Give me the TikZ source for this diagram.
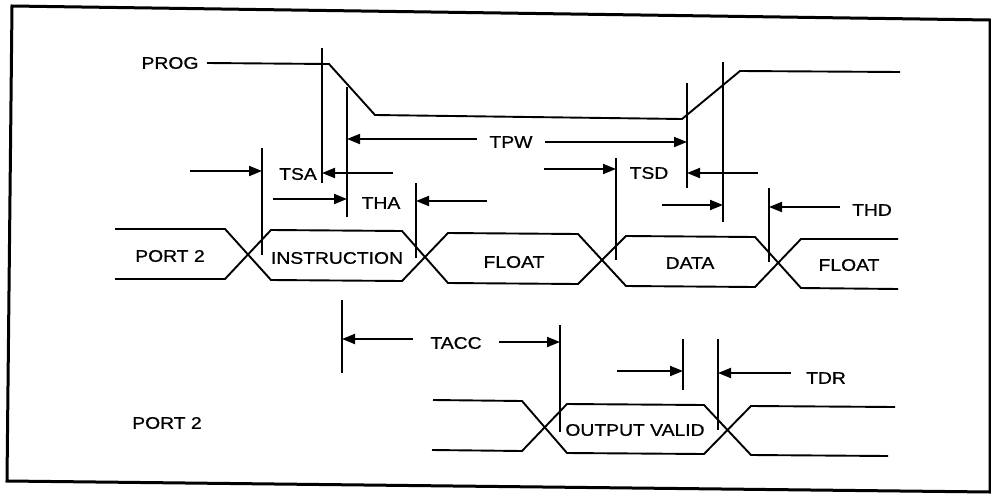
\documentclass[tikz,border=0pt]{standalone}
\usepackage{fontspec}
\newfontfamily\lblfont{Liberation Sans}[FakeStretch=1.15,FakeBold=0.8]
\usetikzlibrary{arrows.meta}

\begin{document}
\begin{tikzpicture}[x=1pt,y=-1pt,
	sig/.style={line width=1.9pt,line join=miter},
	tick/.style={line width=2.1pt},
	dim/.style={line width=1.9pt,-{Triangle[length=13pt,width=10pt]}},
	lbl/.style={inner sep=0pt,font=\lblfont\fontsize{16.8}{18}\selectfont}]
	\useasboundingbox (0,0) rectangle (991,493);
	% frame
	\draw[line width=3pt] (12,6) -- (990,20) -- (990,492) -- (7,481) -- cycle;
	% PROG
	\node[lbl] (prog) at (170,63) {PROG};
	\draw[sig] (207,63) -- (329,64) -- (375,115) -- (682,119) -- (740,71) -- (900,72);
	% PORT 2 (address in, data out)
	\node[lbl] (port1) at (170,256) {PORT 2};
	\draw[sig] (115,229) -- (225,229) -- (271,280) -- (402,281) -- (448,233) -- (578,234) -- (626,286) -- (755,287) -- (801,239) -- (898,239);
	\draw[sig] (115,279) -- (225,279) -- (271,230) -- (402,231) -- (448,283) -- (578,284) -- (626,236) -- (755,237) -- (801,288) -- (898,289);
	\node[lbl] (instr) at (337,258) {INSTRUCTION};
	\node[lbl] (float1) at (514,262) {FLOAT};
	\node[lbl] (data) at (690,263) {DATA};
	\node[lbl] (float2) at (849,265) {FLOAT};
	% PORT 2 (output)
	\node[lbl] (port2) at (167,423) {PORT 2};
	\draw[sig] (433,400) -- (522,401) -- (567,453) -- (704,454) -- (751,406) -- (895,407);
	\draw[sig] (432,450) -- (522,451) -- (567,404) -- (704,405) -- (751,455) -- (888,456);
	\node[lbl] (valid) at (635,430) {OUTPUT VALID};
	% marker lines
	\draw[tick] (322,48) -- (322,183);
	\draw[tick] (347,87) -- (347,217);
	\draw[tick] (262,148) -- (262,255);
	\draw[tick] (416,183) -- (416,258);
	\draw[tick] (687,83) -- (687,188);
	\draw[tick] (723,62) -- (723,222);
	\draw[tick] (616,158) -- (616,260);
	\draw[tick] (769,188) -- (769,262);
	\draw[tick] (342,300) -- (342,373);
	\draw[tick] (560,325) -- (560,432);
	\draw[tick] (683,339) -- (683,390);
	\draw[tick] (718,339) -- (718,430);
	% timings
	\node[lbl] (tpw) at (511,142) {TPW};
	\draw[dim] (477,139) -- (347,139);
	\draw[dim] (545,142) -- (687,142);
	\node[lbl] (tsa) at (298,174) {TSA};
	\draw[dim] (190,171) -- (262,171);
	\draw[dim] (393,173) -- (322,173);
	\node[lbl] (tha) at (381,203) {THA};
	\draw[dim] (273,199) -- (347,199);
	\draw[dim] (487,201) -- (416,201);
	\node[lbl] (tsd) at (649,173) {TSD};
	\draw[dim] (544,169) -- (616,169);
	\draw[dim] (758,173) -- (687,173);
	\node[lbl] (thd) at (872,210) {THD};
	\draw[dim] (662,205) -- (723,205);
	\draw[dim] (840,207) -- (769,207);
	\node[lbl] (tacc) at (456,343) {TACC};
	\draw[dim] (413,339) -- (342,339);
	\draw[dim] (499,342) -- (560,342);
	\node[lbl] (tdr) at (826,378) {TDR};
	\draw[dim] (617,371) -- (683,371);
	\draw[dim] (791,373) -- (718,373);
\end{tikzpicture}
\end{document}
